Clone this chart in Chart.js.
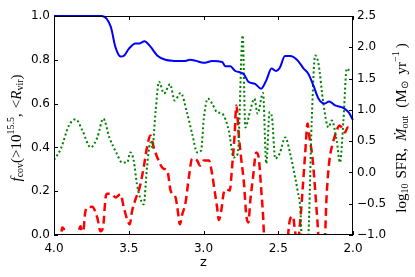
<!DOCTYPE html>
<html>
<head>
<meta charset="utf-8">
<script src="https://cdn.jsdelivr.net/npm/chart.js@4/dist/chart.umd.min.js"></script>
<style>
  body { margin: 0; background: #fff; }
  #wrap { width: 415px; height: 277px; }
</style>
</head>
<body>
<div id="wrap"><canvas id="chart" width="415" height="277"></canvas></div>
<script>
// covering fraction (left axis), solid blue
const fcovZ = [4.0, 3.8, 3.68, 3.62, 3.59, 3.555, 3.53, 3.5, 3.455, 3.43, 3.395, 3.355, 3.31, 3.255, 3.2, 3.13, 3.09, 3.05, 3.0,
  2.94, 2.875, 2.855, 2.82, 2.79, 2.73, 2.7, 2.655, 2.615, 2.58, 2.545, 2.515, 2.49, 2.455, 2.42, 2.375, 2.33, 2.3, 2.265,
  2.23, 2.19, 2.16, 2.12, 2.065, 2.03, 2.0];
const fcovVals = [1.0, 1.0, 1.0, 0.95, 0.86, 0.815, 0.82, 0.85, 0.875, 0.875, 0.885, 0.86, 0.82, 0.8, 0.795, 0.794, 0.8, 0.795, 0.786,
  0.794, 0.79, 0.771, 0.771, 0.75, 0.734, 0.7, 0.69, 0.668, 0.706, 0.76, 0.749, 0.763, 0.817, 0.817, 0.8, 0.76, 0.737, 0.683,
  0.622, 0.6, 0.61, 0.592, 0.581, 0.561, 0.525];

// log10 SFR (right axis), green dotted
const sfrZ = [4.0, 3.955, 3.9, 3.855, 3.81, 3.755, 3.71, 3.67, 3.63, 3.58, 3.545, 3.51, 3.49, 3.467, 3.445, 3.425, 3.4, 3.378,
  3.355, 3.342, 3.32, 3.298, 3.264, 3.224, 3.193, 3.153, 3.109, 3.076, 3.042, 3.016, 2.998, 2.971, 2.942, 2.909, 2.875, 2.831,
  2.798, 2.771, 2.738, 2.72, 2.687, 2.66, 2.638, 2.602, 2.58, 2.558, 2.542, 2.52, 2.491, 2.453, 2.42, 2.387, 2.37, 2.353, 2.342,
  2.32, 2.298, 2.276, 2.253, 2.231, 2.198, 2.164, 2.142, 2.109, 2.087, 2.064, 2.042, 2.025];
const sfrVals = [0.2, 0.375, 0.75, 0.85, 0.67, 0.4, 0.56, 0.86, 0.56, 0.3, 0.16, 0.16, 0.32, 0.19, -0.19, -0.4, -0.51, 0.08,
  0.48, 0.4, 0.99, 1.45, 1.26, 1.41, 1.15, 1.27, 0.94, 0.62, 0.32, 0.35, 0.86, 1.18, 1.1, 0.96, 0.94, 0.67,
  0.24, 0.3, 2.19, 0.72, 0.99, 1.18, 0.94, 1.27, 0.14, 0.96, 0.88, 0.22, 0.3, 0.56, 0.3, -0.08, -0.3, -0.56, -1.1,
  -1.3, -0.98, 0.83, 1.87, 1.74, 1.1, 0.72, 0.83, 0.51, 0.16, 0.83, 1.66, 1.63];

// log10 Mdot_out (right axis), red dashed
const outZ = [4.0, 3.96, 3.945, 3.935, 3.92, 3.85, 3.835, 3.822, 3.81, 3.79, 3.778, 3.745, 3.711, 3.689, 3.671, 3.655, 3.645,
  3.611, 3.589, 3.555, 3.533, 3.511, 3.493, 3.478, 3.455, 3.427, 3.4, 3.378, 3.355, 3.333, 3.309, 3.269, 3.242, 3.22, 3.187,
  3.175, 3.158, 3.142, 3.12, 3.098, 3.076, 3.042, 3.024, 2.998, 2.964, 2.942, 2.927, 2.909, 2.898, 2.882, 2.864, 2.847, 2.824,
  2.809, 2.793, 2.78, 2.765, 2.749, 2.731, 2.713, 2.7, 2.687, 2.669, 2.647, 2.631, 2.615, 2.602, 2.59, 2.45, 2.424, 2.402,
  2.387, 2.37, 2.353, 2.336, 2.32, 2.304, 2.291, 2.269, 2.253, 2.238, 2.225, 2.19, 2.176, 2.158, 2.136, 2.113, 2.091, 2.069,
  2.053, 2.036, 2.0];
const outVals = [-1.3, -1.2, -0.88, -0.9, -1.2, -1.3, -0.96, -0.86, -1.05, -0.62, -0.56, -0.55, -0.72, -0.94, -0.86, -0.4, -0.34,
  -0.35, -0.4, -0.35, -0.56, -0.75, -0.83, -0.62, -0.43, -0.24, 0.08, 0.4, 0.59, 0.4, 0.24, 0.06, 0.03, -0.29, -0.4,
  -0.56, -0.83, -0.67, -0.48, -0.08, 0.22, 0.19, 0.11, 0.19, 0.19, -0.03, -0.27, -0.56, -0.76, -0.62, -0.32, -0.27, -0.29,
  0.08, 0.56, 1.07, 0.62, 0.24, -0.13, -0.7, -0.8, -0.45, -0.08, 0.32, 0.24, -0.24, -0.67, -1.2, -1.3, -0.78, -0.7,
  -0.95, -1.1, -0.78, -0.24, 0.3, 0.78, 0.56, 0.19, -0.29, -0.78, -1.2, -1.1, -0.35, 0.19, 0.46, 0.64, 0.75, 0.7,
  0.64, 0.72, 0.7];

const xTicks = [4.0, 3.5, 3.0, 2.5, 2.0];
const leftTicks = [0.0, 0.2, 0.4, 0.6, 0.8, 1.0];
const rightTicks = [-1.0, -0.5, 0.0, 0.5, 1.0, 1.5, 2.0, 2.5];

const pts = (zs, vs) => zs.map((z, i) => ({ x: z, y: vs[i] }));
const tickFont = { family: 'DejaVu Sans', size: 12 };
const fmt = v => v.toFixed(1).replace('-', '\u2212');

// axis labels with sub/superscripts, drawn as text pieces (g = extra gap after piece)
const serif = 'Liberation Serif';
const leftLabel = [
  { t: 'f', s: 15, it: true }, { t: 'cov', s: 10, dy: 3 }, { t: '(>10', s: 15 }, { t: '15.5', s: 10, dy: -6 },
  { t: ',', s: 15, g: 5 }, { t: '<', s: 15 }, { t: 'R', s: 15, it: true }, { t: 'vir', s: 10, dy: 3 }, { t: ')', s: 15 }
];
const rightLabel = [
  { t: 'log', s: 15 }, { t: '10', s: 10, dy: 3, g: 5 }, { t: 'SFR,', s: 15, g: 7 }, { t: '\u1E40', s: 15, it: true },
  { t: 'out', s: 10, dy: 3, g: 8 }, { t: '(M', s: 15 }, { t: '\u2299', s: 10, dy: 3, g: 7 }, { t: 'yr', s: 15 },
  { t: '\u22121', s: 10, dy: -6, g: 3 }, { t: ')', s: 15 }
];

function drawRich(ctx, parts, cx, cy, rot) {
  ctx.save();
  ctx.translate(cx, cy);
  ctx.rotate(rot);
  ctx.textBaseline = 'middle';
  ctx.textAlign = 'left';
  const fontOf = p => (p.it ? 'italic ' : '') + p.s + 'px "' + serif + '"';
  let w = 0;
  parts.forEach(p => { ctx.font = fontOf(p); w += ctx.measureText(p.t).width + (p.g || 0); });
  let x = -w / 2;
  ctx.fillStyle = '#000';
  parts.forEach(p => {
    ctx.font = fontOf(p);
    ctx.fillText(p.t, x, p.dy || 0);
    x += ctx.measureText(p.t).width + (p.g || 0);
  });
  ctx.restore();
}

const framePlugin = {
  id: 'frame',
  afterDraw(chart) {
    const { ctx, chartArea: a, scales } = chart;
    ctx.save();
    ctx.strokeStyle = '#000';
    ctx.lineWidth = 1;
    ctx.strokeRect(a.left + 0.5, a.top + 0.5, a.right - a.left - 1, a.bottom - a.top - 1);
    ctx.beginPath();
    xTicks.forEach(v => {
      const px = Math.round(scales.x.getPixelForValue(v)) + 0.5;
      ctx.moveTo(px, a.bottom); ctx.lineTo(px, a.bottom - 4);
      ctx.moveTo(px, a.top); ctx.lineTo(px, a.top + 4);
    });
    leftTicks.forEach(v => {
      const py = Math.round(scales.y.getPixelForValue(v)) + 0.5;
      ctx.moveTo(a.left, py); ctx.lineTo(a.left + 4, py);
    });
    rightTicks.forEach(v => {
      const py = Math.round(scales.y2.getPixelForValue(v)) + 0.5;
      ctx.moveTo(a.right, py); ctx.lineTo(a.right - 4, py);
    });
    ctx.stroke();
    ctx.restore();

    drawRich(ctx, leftLabel, 17, 128, -Math.PI / 2);
    drawRich(ctx, rightLabel, 402, 128, -Math.PI / 2);
    ctx.save();
    ctx.font = '13px "DejaVu Sans"';
    ctx.fillStyle = '#000';
    ctx.textAlign = 'center';
    ctx.textBaseline = 'middle';
    ctx.fillText('z', (a.left + a.right) / 2, 263);
    ctx.restore();
  }
};

new Chart(document.getElementById('chart'), {
  type: 'line',
  data: {
    datasets: [
      { data: pts(fcovZ, fcovVals), yAxisID: 'y', borderColor: '#0000ff', borderWidth: 2, pointRadius: 0,
        cubicInterpolationMode: 'monotone', clip: 4 },
      { data: pts(sfrZ, sfrVals), yAxisID: 'y2', borderColor: '#008000', borderWidth: 2, borderDash: [2, 2.5], pointRadius: 0,
        cubicInterpolationMode: 'monotone', clip: 0 },
      { data: pts(outZ, outVals), yAxisID: 'y2', borderColor: '#ff0000', borderWidth: 2.5, borderDash: [8, 4.5], pointRadius: 0,
        cubicInterpolationMode: 'monotone', clip: 0 }
    ]
  },
  options: {
    responsive: false,
    animation: false,
    devicePixelRatio: 1,
    layout: { padding: { top: 16, left: 0, right: 0, bottom: 0 } },
    plugins: { legend: { display: false }, tooltip: { enabled: false } },
    scales: {
      x: {
        type: 'linear', reverse: true, min: 2, max: 4,
        afterBuildTicks: s => { s.ticks = xTicks.map(v => ({ value: v })); },
        afterFit: s => { s.height = 42; },
        ticks: { font: tickFont, color: '#000', padding: 7, maxRotation: 0, autoSkip: false, callback: fmt },
        grid: { display: false, drawTicks: false },
        border: { display: false }
      },
      y: {
        position: 'left', min: 0, max: 1,
        afterBuildTicks: s => { s.ticks = leftTicks.map(v => ({ value: v })); },
        afterFit: s => { s.width = 54; },
        ticks: { font: tickFont, color: '#000', padding: 4, autoSkip: false, callback: fmt },
        grid: { display: false, drawTicks: false },
        border: { display: false }
      },
      y2: {
        position: 'right', min: -1, max: 2.5,
        afterBuildTicks: s => { s.ticks = rightTicks.map(v => ({ value: v })); },
        afterFit: s => { s.width = 62; },
        ticks: { font: tickFont, color: '#000', padding: 4, autoSkip: false, callback: fmt },
        grid: { display: false, drawTicks: false },
        border: { display: false }
      }
    }
  },
  plugins: [framePlugin]
});
</script>
</body>
</html>
